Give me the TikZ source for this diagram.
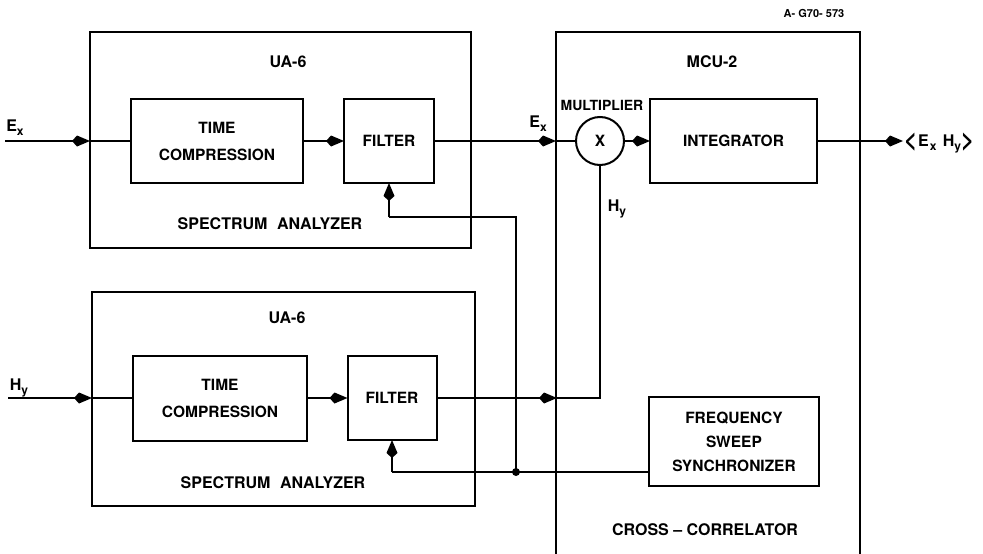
\documentclass[tikz,border=0pt]{standalone}
\usepackage{fontspec}
\setmainfont{TeX Gyre Heros}
\usetikzlibrary{arrows.meta}
\newcommand\sbs[1]{\raisebox{-4pt}{\fontsize{12}{12}\selectfont\bfseries #1}}
\newcommand\tallch[1]{\raisebox{-2.5pt}{\scalebox{1.4}[1.6]{#1}}}
\begin{document}
\begin{tikzpicture}[x=1pt,y=-1pt,
  line width=2pt, line join=miter,
  box/.style={draw, line width=2pt, inner sep=0pt, outer sep=0pt, align=center,
    font=\fontsize{15.5}{27}\selectfont\bfseries},
  lbl/.style={inner sep=0pt, font=\fontsize{16}{19}\selectfont\bfseries},
  tip/.style={-{Kite[length=18pt,width=11pt,inset=5pt]}},
  dotm/.style={circle, fill=black, inner sep=0pt, minimum size=8pt}]
\useasboundingbox (0,0) rectangle (983,554);

% containers
\node[box, minimum width=381pt, minimum height=216pt] (sa1) at (280.5,140) {};
\node[box, minimum width=383pt, minimum height=214pt] (sa2) at (283.5,399) {};
\draw (556,560) -- (556,32) -- (860,32) -- (860,560);

% inner boxes
\node[box, minimum width=172pt, minimum height=84pt] (tc1) at (217,141) {TIME\\COMPRESSION};
\node[box, minimum width=90pt, minimum height=84pt] (f1) at (389,141) {FILTER};
\node[box, minimum width=174pt, minimum height=85pt] (tc2) at (220,398) {TIME\\COMPRESSION};
\node[box, minimum width=89pt, minimum height=84pt] (f2) at (392,398) {FILTER};
\node[box, circle, minimum size=48pt] (mul) at (600,141) {X};
\node[box, minimum width=167pt, minimum height=84pt] (int) at (733.5,141) {INTEGRATOR};
\node[box, minimum width=170pt, minimum height=89pt, font=\fontsize{15.5}{24}\selectfont\bfseries] (syn) at (734,441.5) {FREQUENCY\\SWEEP\\SYNCHRONIZER};

% labels
\node[lbl] (ua1) at (288,62) {UA-6};
\node[lbl] (ua2) at (287,318) {UA-6};
\node[lbl] (sp1) at (270,224) {SPECTRUM\hspace{0.6em}ANALYZER};
\node[lbl] (sp2) at (273,483) {SPECTRUM\hspace{0.6em}ANALYZER};
\node[lbl] (mcu) at (712,62) {MCU-2};
\node[lbl, font=\fontsize{14}{16}\selectfont\bfseries] (mlt) at (602,105) {MULTIPLIER};
\node[lbl] (ccr) at (705,530) {CROSS -- CORRELATOR};
\node[lbl, font=\fontsize{11}{12}\selectfont\bfseries] (ref) at (814,13) {A- G70- 573};
\node[lbl] (exin) at (15,128) {E\sbs{x}};
\node[lbl] (hyin) at (19,388) {H\sbs{y}};
\node[lbl] (exm) at (538,124) {E\sbs{x}};
\node[lbl] (hym) at (617,209) {H\sbs{y}};
\node[lbl, anchor=west] (out) at (903,143) {\tallch{<}\hspace{1pt}E\hspace{1pt}\sbs{x}\hspace{0.4em}H\sbs{y}\tallch{>}};

% junctions
\coordinate (exs) at (5,141);
\coordinate (hys) at (8,398);
\coordinate (j) at (516,472);
\node[dotm] (jd) at (j) {};

% signal path E_x
\draw[tip] (exs) -- (sa1.west |- exs);
\draw (sa1.west |- exs) -- (tc1.west);
\draw[tip] (tc1.east) -- (f1.west);
\draw[tip] (f1.east) -- (556,141);
\draw (556,141) -- (mul.west);
\draw[tip] (mul.east) -- (int.west);
\draw[tip] (int.east) -- (out.west |- int.east);

% signal path H_y
\draw[tip] (hys) -- (sa2.west |- hys);
\draw (sa2.west |- hys) -- (tc2.west);
\draw[tip] (tc2.east) -- (f2.west);
\draw[tip] (f2.east) -- (557,398);
\draw (557,398) -- (mul.south |- f2.east) -- (mul.south);

% synchronizer feedback
\draw (syn.west |- j) -- (j) -- (f2.south |- j);
\draw[tip] (f2.south |- j) -- (f2.south);
\draw (j) -- (516,217) -- (f1.south |- 0,217);
\draw[tip] (f1.south |- 0,217) -- (f1.south);
\end{tikzpicture}
\end{document}
